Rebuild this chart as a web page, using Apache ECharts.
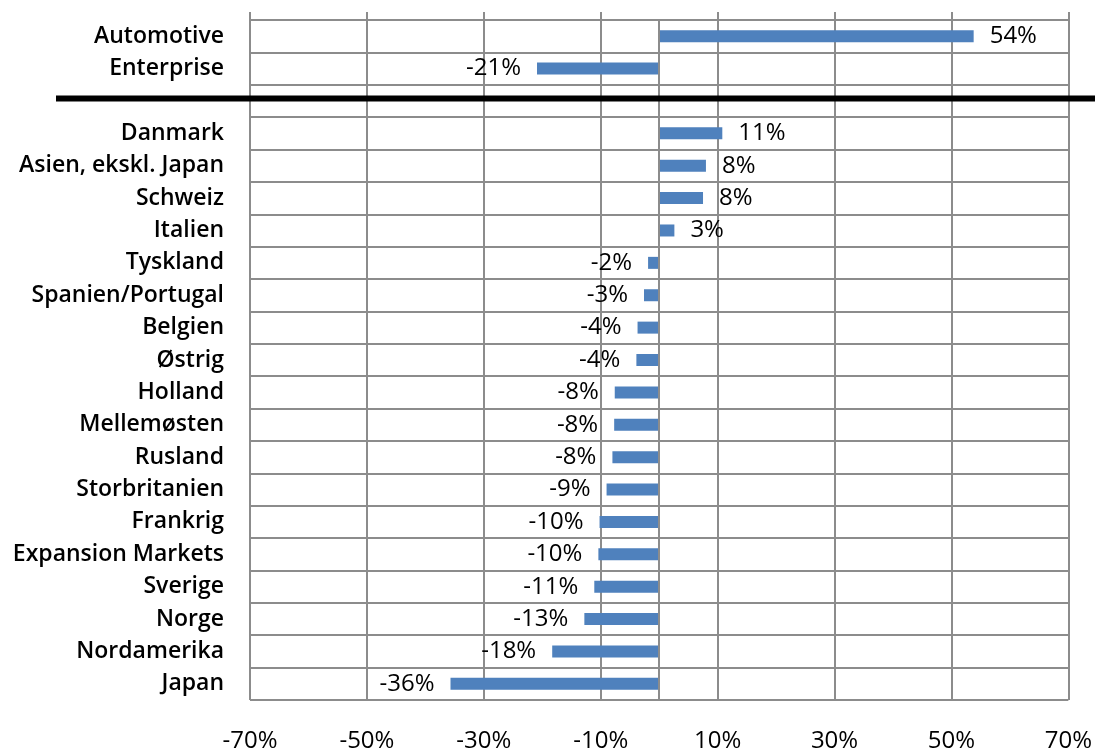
<!DOCTYPE html>
<html>
<head>
<meta charset="utf-8">
<script src="https://cdn.jsdelivr.net/npm/echarts@6/dist/echarts.min.js"></script>
<style>
html,body{margin:0;padding:0;background:#fff;}
#chart{width:1095px;height:753px;}
</style>
</head>
<body>
<div id="chart"></div>
<script>
const GAP = ' ';
const categories = ['Automotive','Enterprise',GAP,'Danmark','Asien, ekskl. Japan','Schweiz','Italien','Tyskland','Spanien/Portugal','Belgien','Østrig','Holland','Mellemøsten','Rusland','Storbritanien','Frankrig','Expansion Markets','Sverige','Norge','Nordamerika','Japan'];
const values = [53.8,-20.9,null,10.8,8.0,7.5,2.6,-1.9,-2.6,-3.7,-3.9,-7.6,-7.7,-8.0,-9.0,-10.2,-10.4,-11.1,-12.8,-18.3,-35.7];
const tickMin = -70, tickMax = 70, tickStep = 20;

const FONT = '"Open Sans", "Noto Sans", sans-serif';
const GRID_COLOR = '#8c8c8c';

const chart = echarts.init(document.getElementById('chart'), null, {renderer:'canvas'});

const seriesData = values.map(v => v === null ? '-' : {
  value: v,
  label: {position: v >= 0 ? 'right' : 'left'}
});

chart.setOption({
  animation: false,
  backgroundColor: '#ffffff',
  grid: {left: 250, right: 25, top: 20, bottom: 53, containLabel: false},
  xAxis: [{
    type: 'value', position: 'bottom',
    min: tickMin, max: tickMax, interval: tickStep,
    axisLine: {show: false}, axisTick: {show: false},
    splitLine: {show: true, lineStyle: {color: GRID_COLOR, width: 2}},
    axisLabel: {
      margin: 29, color: '#000', fontFamily: FONT, fontSize: 24, fontWeight: 500,
      formatter: v => v + '%'
    }
  }, {
    type: 'value', position: 'top',
    min: tickMin, max: tickMax, interval: tickStep,
    axisLine: {show: false},
    axisTick: {show: true, length: 8, lineStyle: {color: GRID_COLOR, width: 2}},
    splitLine: {show: false},
    axisLabel: {show: false}
  }],
  yAxis: {
    type: 'category', data: categories, inverse: true,
    axisLine: {show: false, onZero: false}, axisTick: {show: false},
    splitLine: {show: true, interval: 0, lineStyle: {color: GRID_COLOR, width: 2}},
    axisLabel: {
      margin: 26, color: '#000', fontFamily: FONT, fontSize: 23, fontWeight: 600, interval: 0
    }
  },
  series: [{
    type: 'bar', xAxisIndex: 0, data: seriesData, barWidth: 12,
    itemStyle: {color: '#4f81bd'},
    label: {
      show: true, distance: 16, color: '#000', fontFamily: FONT, fontSize: 24,
      formatter: p => Math.round(p.value) + '%'
    },
    markLine: {
      silent: true, symbol: 'none', label: {show: false},
      lineStyle: {color: GRID_COLOR, width: 2, type: 'solid'},
      data: [{xAxis: 0}]
    }
  }]
});

const gapY = chart.convertToPixel({yAxisIndex: 0}, GAP);
chart.setOption({
  graphic: [{
    type: 'rect', silent: true, z: 100,
    shape: {x: 56, y: gapY - 5.5, width: 1095 - 56, height: 6},
    style: {fill: '#000'}
  }]
});
</script>
</body>
</html>
